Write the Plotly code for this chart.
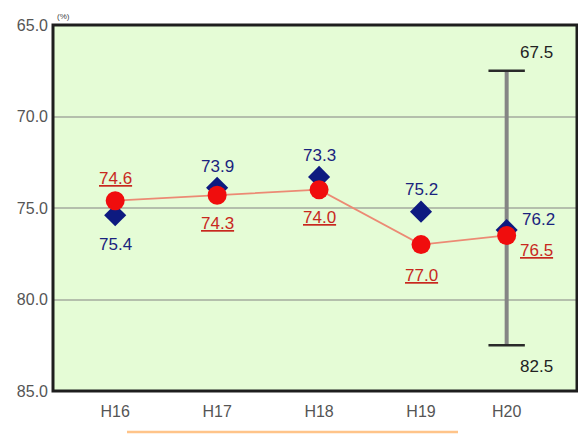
import plotly.graph_objects as go

categories = ["H16", "H17", "H18", "H19", "H20"]
x_pos = [0, 1, 2, 3, 3.84]
red_vals = [74.6, 74.3, 74.0, 77.0, 76.5]
blue_vals = [75.4, 73.9, 73.3, 75.2, 76.2]
range_low = 67.5
range_high = 82.5
y_ticks = [65, 70, 75, 80, 85]

FONT = "Liberation Sans, Arial, sans-serif"
RED_TXT = "#c8281e"
BLUE_TXT = "#1a237e"

fig = go.Figure()

fig.add_trace(go.Scatter(x=[x_pos[4], x_pos[4]], y=[range_low, range_high], mode="lines",
                         line=dict(color="#858585", width=4), hoverinfo="skip", showlegend=False))
fig.add_trace(go.Scatter(x=[x_pos[4], x_pos[4]], y=[range_low, range_high], mode="markers",
                         marker=dict(symbol="line-ew-open", size=26, color="#2a2a2a",
                                     line=dict(color="#2a2a2a", width=2.5)),
                         hoverinfo="skip", showlegend=False))
fig.add_trace(go.Scatter(x=x_pos, y=blue_vals, mode="markers",
                         marker=dict(symbol="diamond", size=17, color="#0d1a80"),
                         showlegend=False))
fig.add_trace(go.Scatter(x=x_pos, y=red_vals, mode="lines",
                         line=dict(color="#ec8a74", width=1.8), showlegend=False))
fig.add_trace(go.Scatter(x=x_pos, y=red_vals, mode="markers",
                         marker=dict(symbol="circle", size=19, color="#f00d0d"),
                         showlegend=False))

red_off = [(0, 22), (0, -28), (0, -28), (0, -31), (30, -15)]
blue_off = [(0, -29), (0, 21), (0, 21), (0, 22), (32, 10)]

for x, v, (dx, dy) in zip(x_pos, red_vals, red_off):
    fig.add_annotation(x=x, y=v, text=f"<u>{v:.1f}</u>", showarrow=False,
                       xshift=dx, yshift=dy, font=dict(family=FONT, size=17, color=RED_TXT))
for x, v, (dx, dy) in zip(x_pos, blue_vals, blue_off):
    fig.add_annotation(x=x, y=v, text=f"{v:.1f}", showarrow=False,
                       xshift=dx, yshift=dy, font=dict(family=FONT, size=17, color=BLUE_TXT))

fig.add_annotation(x=x_pos[4], y=range_low, text=f"{range_low:.1f}", showarrow=False,
                   xshift=30, yshift=18, font=dict(family=FONT, size=17, color="#222222"))
fig.add_annotation(x=x_pos[4], y=range_high, text=f"{range_high:.1f}", showarrow=False,
                   xshift=30, yshift=-21, font=dict(family=FONT, size=17, color="#222222"))

fig.add_annotation(xref="paper", yref="paper", x=0.0, y=1.0, text="(%)", showarrow=False,
                   xanchor="left", yanchor="bottom", xshift=2, yshift=2,
                   font=dict(family=FONT, size=8, color="#444444"))

# full frame around plot area
fig.add_shape(type="rect", xref="paper", yref="paper", x0=0, x1=1, y0=0, y1=1,
              line=dict(color="#1e1e1e", width=3), fillcolor="rgba(0,0,0,0)")

fig.add_shape(type="line", xref="paper", yref="paper", x0=(127 - 53) / 524, x1=(458 - 53) / 524,
              y0=-41 / 366, y1=-41 / 366, line=dict(color="#ffc489", width=2.5))

fig.update_layout(
    width=578, height=434,
    margin=dict(l=53, r=1, t=25, b=43, pad=0),
    paper_bgcolor="white",
    plot_bgcolor="#e5fcd6",
    font=dict(family=FONT),
)
fig.update_xaxes(range=[-0.61, 4.53], tickvals=x_pos, ticktext=categories,
                 showgrid=False, zeroline=False, showline=False, ticks="",
                 ticklabelstandoff=9,
                 tickfont=dict(family=FONT, size=16, color="#555555"))
fig.update_yaxes(range=[85, 65], tickvals=y_ticks, ticktext=[f"{t:.1f}" for t in y_ticks],
                 showgrid=True, gridcolor="#b4bfac", gridwidth=1.5, zeroline=False,
                 showline=False, ticks="", ticklabelstandoff=4,
                 tickfont=dict(family=FONT, size=16, color="#555555"))

fig.write_html("out.html", config={"displayModeBar": False})
